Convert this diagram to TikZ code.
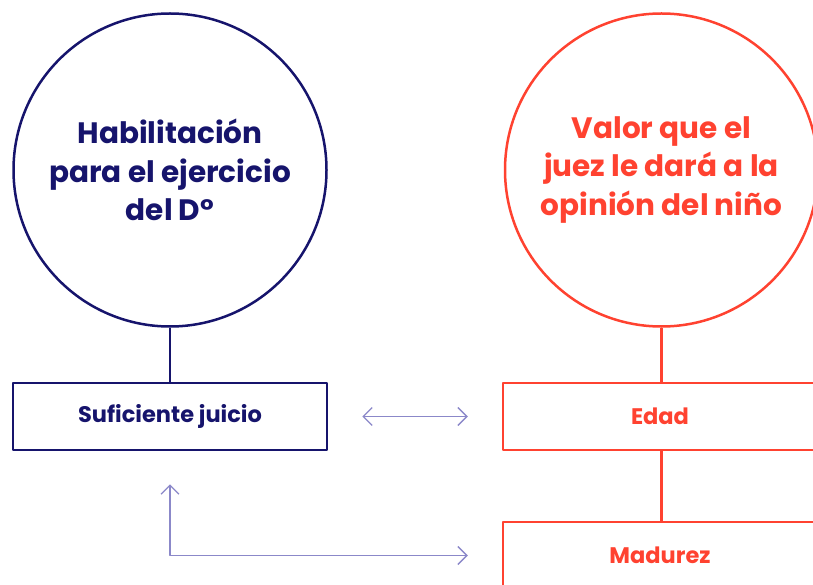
\documentclass[tikz,border=0pt]{standalone}
\usepackage{fontspec}
\setmainfont{Poppins}
\usetikzlibrary{arrows.meta,positioning}
\definecolor{navy}{HTML}{16146C}
\definecolor{coral}{HTML}{FF4230}
\definecolor{lila}{HTML}{8B88C9}
\begin{document}
\begin{tikzpicture}[x=1pt,y=-1pt,line join=round,
	circulo/.style={draw,circle,line width=2.5pt,minimum size=313pt,inner sep=0pt,align=center,
		font=\fontsize{29.5}{38.5}\selectfont\bfseries},
	caja/.style={draw,rectangle,line width=2.5pt,minimum width=314pt,minimum height=67pt,inner sep=0pt,
		font=\fontsize{22.5}{26}\selectfont\bfseries},
	union/.style={line width=2.5pt},
	flecha/.style={lila,line width=1.4pt,{Straight Barb[length=9pt,width=18pt]}-{Straight Barb[length=9pt,width=18pt]}}]
	\clip (0,0) rectangle (813,585);
	% Círculos
	\node[circulo,navy] (hab) at (170,170) {Habilitación\\para el ejercicio\\del D°};
	\node[circulo,coral] (valor) at (661.5,170) {Valor que el\\juez le dará a la\\opinión del niño};
	% Cajas
	\node[caja,navy] (juicio) at (170,416.5) {Suficiente juicio};
	\node[caja,coral] (edad) at (660,416.5) {Edad};
	\node[caja,coral] (madurez) at (660,555.5) {Madurez};
	% Uniones
	\draw[union,navy] (hab) -- (juicio);
	\draw[union,coral] (valor.south) -- (valor.south |- edad.north);
	\draw[union,coral] (edad.south -| valor.south) -- (madurez.north -| valor.south);
	% Flechas
	\draw[flecha] ([xshift=34pt]juicio.east) -- ([xshift=-34pt]edad.west);
	\draw[flecha] ([yshift=-33pt]juicio.south) |- ([xshift=-34pt]madurez.west);
\end{tikzpicture}
\end{document}
